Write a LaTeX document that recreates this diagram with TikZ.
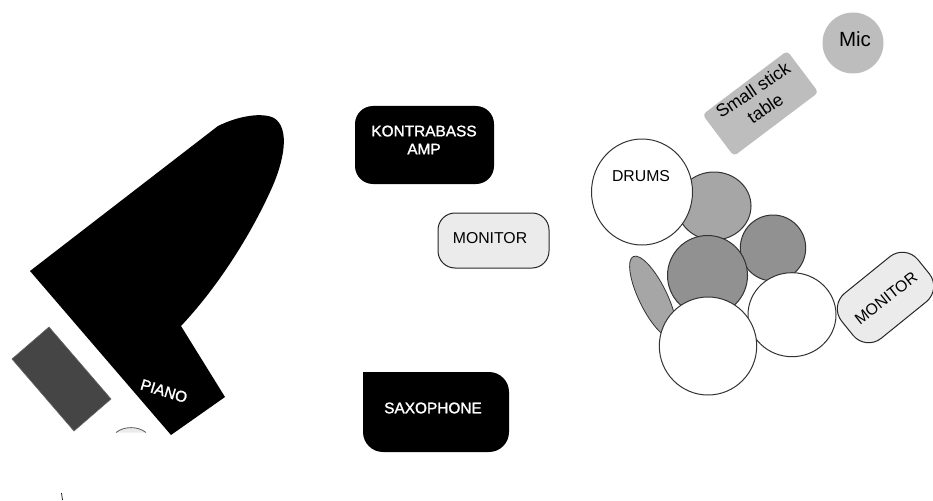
\documentclass[tikz,border=0pt]{standalone}
\usepackage{fontspec}
\setmainfont{Liberation Sans}
\newfontfamily\fakebold[FakeBold=1.5]{Liberation Sans}
\begin{document}
\begin{tikzpicture}[x=1pt,y=-1pt,
  lab/.style={font=\fontsize{15.8}{18}\selectfont,align=center,inner sep=0pt},
  wlab/.style={font=\fakebold\fontsize{15.4}{18}\selectfont,align=center,inner sep=0pt,text=white},
  blackbox/.style={rounded corners=18pt,fill=black},
  greybox/.style={rounded corners=17pt,fill=black!8,draw=black!85,line width=1pt}]
\useasboundingbox (0,0) rectangle (933,500);
% piano
\fill[black] (30,271) -- (218,126) .. controls (238,116) and (262,112) .. (274,118)
  .. controls (290,128) and (285,160) .. (270,192)
  .. controls (248,240) and (215,290) .. (181,326) -- (225,397) -- (171,435) -- cycle;
\draw[fill=black!73,draw=black!60,line width=.6pt] (49,327) -- (111,399) -- (74,431) -- (12,359) -- cycle;
\draw[fill=black!8,draw=black!65,line width=.8pt] (116,432.5) .. controls (124,426) and (138,426) .. (146,432.5);
\draw[black,line width=.7pt] (61.5,493) .. controls (62,495) and (62,498) .. (62.5,500);
\node[wlab,rotate=-17] (piano) at (164,391) {PIANO};
% amp, monitor, sax
\fill[blackbox] (355,106) rectangle (494,184);
\node[wlab] (amp) at (424,140) {KONTRABASS\\AMP};
\draw[greybox] (438,213) rectangle (549,268);
\node[lab] (mon1) at (490,238) {MONITOR};
\fill[black,rounded corners=20pt] (363,372) -- (363,452) -- (509,452) -- (509,372) [sharp corners] -- cycle;
\node[wlab] (sax) at (433,408) {SAXOPHONE};
% table and mic
\fill[black!26,rounded corners=4pt,rotate around={37:(760.5,103.5)}] (707.5,77.5) rectangle (813.5,129.5);
\node[lab,font=\fontsize{17.8}{22}\selectfont,rotate=34] (table) at (759,99) {Small stick\\table};
\fill[black!26] (853,43) circle (30.5pt);
\node[lab,font=\fontsize{20.5}{24}\selectfont] (mic) at (855,39) {Mic};
% drums
\draw[fill=black!35,draw=black!80,line width=.8pt,rotate around={-64:(653,297)}] (653,297) ellipse [x radius=45pt,y radius=14pt];
\draw[fill=black!35,draw=black!80,line width=1pt] (714,206) ellipse [x radius=37pt,y radius=34pt];
\draw[fill=black!43,draw=black!80,line width=1pt] (773,248) ellipse [x radius=32.7pt,y radius=33pt];
\draw[fill=black!43,draw=black!80,line width=1pt] (707.5,275.5) ellipse [x radius=40pt,y radius=40pt];
\draw[fill=white,draw=black!80,line width=1pt] (792,314.7) ellipse [x radius=44pt,y radius=42pt];
\draw[fill=white,draw=black!80,line width=1pt] (708,346) ellipse [x radius=48.7pt,y radius=49pt];
\draw[fill=white,draw=black!80,line width=1pt] (642,192) ellipse [x radius=50.5pt,y radius=53pt];
\node[lab] (drums) at (641,176) {DRUMS};
% rotated monitor
\draw[greybox,rounded corners=20pt,rotate around={39:(885.5,297.5)}] (836.5,268.5) rectangle (934.5,326.5);
\node[lab,rotate=38] (mon2) at (886,298) {MONITOR};
\end{tikzpicture}
\end{document}
